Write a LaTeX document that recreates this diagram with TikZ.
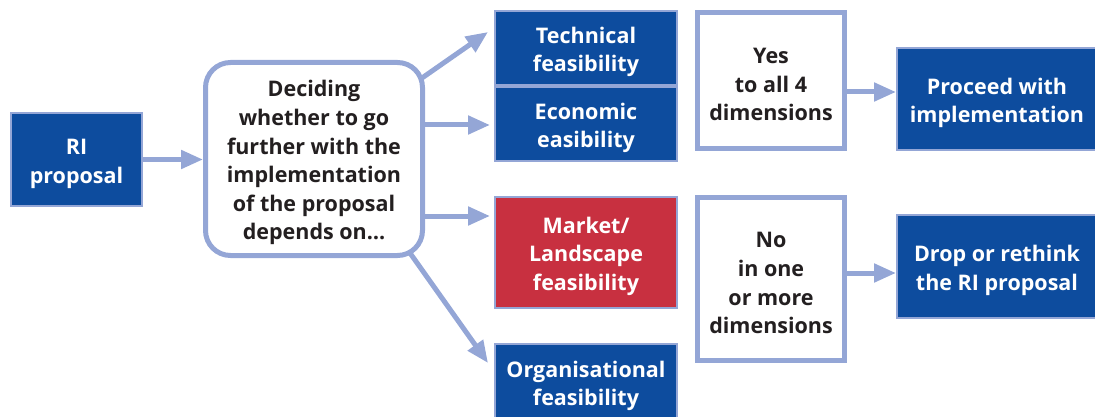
\documentclass[tikz,border=0pt]{standalone}
\usepackage{fontspec}
\setmainfont{Open Sans}
\definecolor{riblue}{RGB}{13,76,158}
\definecolor{lineblue}{RGB}{148,166,214}
\definecolor{rired}{RGB}{200,48,64}
\definecolor{inkgray}{RGB}{35,31,32}
\usetikzlibrary{calc, positioning, arrows.meta}
\newcommand{\firstrow}{\rule{0pt}{24pt}}

\begin{document}
\begin{tikzpicture}[
    x=1pt, y=-1pt,
    font=\fontsize{21.5}{28.6}\selectfont\bfseries,
    bluebox/.style={fill=riblue, draw=lineblue, line width=2pt, text=white,
      align=center, inner sep=0pt},
    redbox/.style={bluebox, fill=rired},
    answerbox/.style={fill=white, draw=lineblue, line width=5pt, text=inkgray,
      align=center, inner sep=0pt},
    flow/.style={draw=lineblue, line width=5pt,
      -{Triangle[length=22pt, width=18pt]}},
  ]
    \useasboundingbox (0,0) rectangle (1095,417);
    % left part
    \node[bluebox, minimum width=131pt, minimum height=93pt] (ri) at (76.5,159.5) {\firstrow RI\\proposal};
    \node[answerbox, rounded corners=25pt, minimum width=217pt, minimum height=193pt] (dec) at (314,159)
      {\firstrow Deciding\\whether to go\\further with the\\implementation\\of the proposal\\depends on\ldots};
    % the four dimensions
    \node[bluebox, minimum width=182pt, minimum height=74pt] (tech) at (586,48) {\firstrow Technical\\feasibility};
    \node[bluebox, minimum width=182pt, minimum height=74pt] (econ) at (586,124) {\firstrow Economic\\easibility};
    \node[redbox, minimum width=182pt, minimum height=111pt] (market) at (586,252.5) {\firstrow Market/\\Landscape\\feasibility};
    \node[bluebox, minimum width=182pt, minimum height=76pt] (org) at (586,382) {\firstrow Organisational\\feasibility};
    % outcome
    \node[answerbox, minimum width=147pt, minimum height=136pt] (yes) at (771,80.5) {\firstrow Yes\\to all 4\\dimensions};
    \node[answerbox, minimum width=147pt, minimum height=163pt] (no) at (771,279) {\firstrow No\\in one\\or more\\dimensions};
    \node[bluebox, minimum width=200pt, minimum height=102pt] (go) at (997,99) {\firstrow Proceed with\\implementation};
    \node[bluebox, minimum width=200pt, minimum height=103pt] (drop) at (997,266.5) {\firstrow Drop or rethink\\the RI proposal};

    \coordinate (t0) at ($(dec.north east)+(-3,18)$);
    \coordinate (t1) at ($(tech.north west)+(-6,22)$);
    \coordinate (e0) at ($(dec.east)+(0,-34)$);
    \coordinate (m0) at ($(dec.east)+(0,57)$);
    \coordinate (o0) at ($(dec.south east)+(-15,-5)$);
    \coordinate (o1) at ($(org.north west)+(-6,20)$);
    \coordinate (y0) at ($(yes.east)+(0,11.5)$);
    \coordinate (n0) at ($(no.east)+(0,-6)$);

    \draw[flow] (ri.east) -- (ri.east -| dec.west);
    \draw[flow] (t0) -- (t1);
    \draw[flow, shorten >=4pt] (e0) -- (e0 -| econ.west);
    \draw[flow, shorten >=4pt] (m0) -- (m0 -| market.west);
    \draw[flow] (o0) -- (o1);
    \draw[flow] (y0) -- (y0 -| go.west);
    \draw[flow] (n0) -- (n0 -| drop.west);
  \end{tikzpicture}
\end{document}
